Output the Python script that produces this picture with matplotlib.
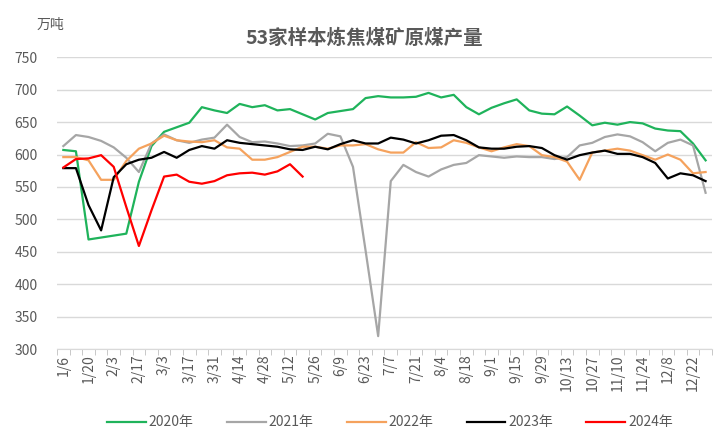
import matplotlib.pyplot as plt
import numpy as np

plt.rcParams['font.family'] = ['Noto Sans CJK SC', 'DejaVu Sans']

# weekly dates (52 weeks), labels every other week
weeks = ['1/6', '1/13', '1/20', '1/27', '2/3', '2/10', '2/17', '2/24', '3/3', '3/10',
         '3/17', '3/24', '3/31', '4/7', '4/14', '4/21', '4/28', '5/5', '5/12', '5/19',
         '5/26', '6/2', '6/9', '6/16', '6/23', '6/30', '7/7', '7/14', '7/21', '7/28',
         '8/4', '8/11', '8/18', '8/25', '9/1', '9/8', '9/15', '9/22', '9/29', '10/6',
         '10/13', '10/20', '10/27', '11/3', '11/10', '11/17', '11/24', '12/1', '12/8',
         '12/15', '12/22', '12/29']

y2020 = [607, 605, 469, 472, 475, 478, 558, 613, 635, 642, 649, 673, 668, 664, 678, 673,
         676, 668, 670, 662, 654, 664, 667, 670, 687, 690, 688, 688, 689, 695, 688, 692,
         673, 662, 672, 679, 685, 668, 663, 662, 674, 660, 645, 649, 646, 650, 648, 640,
         637, 636, 617, 591]
y2021 = [613, 630, 627, 621, 611, 595, 573, 617, 631, 622, 618, 623, 626, 646, 627, 619,
         620, 617, 613, 614, 617, 632, 628, 581, 452, 320, 559, 584, 573, 566, 577, 584,
         587, 599, 597, 595, 597, 596, 596, 593, 596, 614, 618, 627, 631, 628, 619, 605,
         618, 623, 614, 541]
y2022 = [596, 596, 591, 561, 561, 590, 609, 617, 629, 622, 620, 619, 622, 611, 609, 592,
         592, 596, 604, 612, 612, 609, 614, 614, 616, 608, 603, 603, 619, 610, 611, 622,
         618, 611, 605, 611, 616, 613, 599, 596, 589, 561, 603, 606, 609, 606, 599, 592,
         600, 592, 571, 573]
y2023 = [579, 579, 522, 483, 565, 585, 592, 595, 604, 595, 607, 613, 609, 622, 618, 616,
         614, 612, 608, 607, 612, 608, 616, 622, 617, 617, 626, 623, 617, 622, 629, 630,
         622, 611, 609, 609, 612, 613, 610, 599, 592, 599, 603, 606, 601, 601, 596, 587,
         563, 571, 568, 559]
y2024 = [580, 593, 594, 599, 581, 519, 459, 514, 566, 569, 558, 555, 559, 568, 571, 572,
         569, 574, 585, 566]

series = [('2020年', y2020, '#1fb35b'),
          ('2021年', y2021, '#a6a6a6'),
          ('2022年', y2022, '#f5a25d'),
          ('2023年', y2023, '#000000'),
          ('2024年', y2024, '#ff0000')]

fig = plt.figure(figsize=(7.22, 4.47), dpi=100)
ax = fig.add_axes([0.079, 0.219, 0.907, 0.653])

for name, vals, col in series:
    ax.plot(np.arange(len(vals)), vals, color=col, lw=1.6, label=name)

ax.set_xlim(-0.5, len(weeks) - 0.5)
ax.set_ylim(300, 750)
ax.set_yticks(range(300, 751, 50))
ax.grid(axis='y', color='#d9d9d9', lw=1)
ax.set_axisbelow(True)

ax.set_xticks(np.arange(0, len(weeks), 2))
ax.set_xticklabels(weeks[::2], rotation=90)
ax.set_xticks(np.arange(-0.5, len(weeks), 1), minor=True)
ax.tick_params(axis='x', which='major', length=0, pad=4, labelsize=10, labelcolor='#595959')
ax.tick_params(axis='x', which='minor', length=4, color='#bfbfbf')
ax.tick_params(axis='y', length=0, pad=14, labelsize=10, labelcolor='#595959')

for s in ['top', 'right', 'left']:
    ax.spines[s].set_visible(False)
ax.spines['bottom'].set_color('#d9d9d9')

fig.text(0.505, 0.915, '53家样本炼焦煤矿原煤产量', ha='center', va='center',
         fontsize=14, fontweight='bold', color='#595959')
fig.text(0.07, 0.944, '万吨', ha='center', va='center', fontsize=10, color='#595959')

fig.legend(loc='center', bbox_to_anchor=(0.54, 0.055), ncol=5, frameon=False,
           fontsize=10, handlelength=2.8, columnspacing=2.4, handletextpad=0.2,
           labelcolor='#595959')

fig.savefig('out.png', dpi=100)
